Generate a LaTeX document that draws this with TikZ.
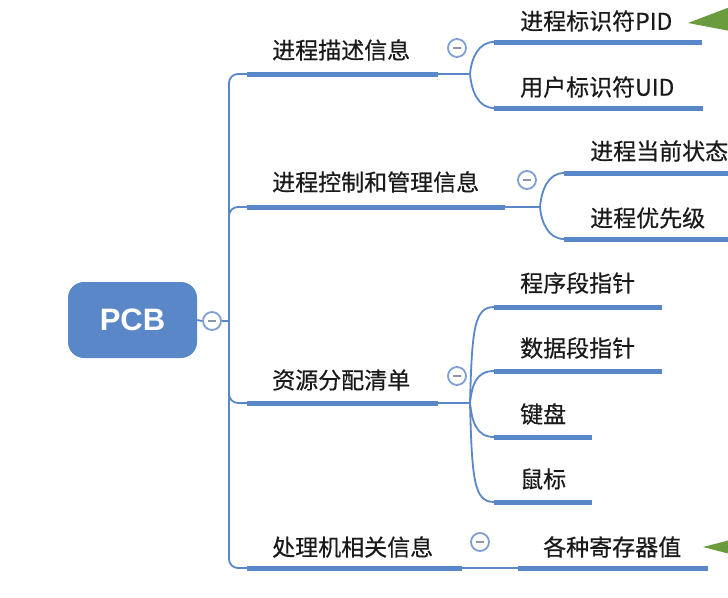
\documentclass[tikz,border=0pt]{standalone}
\usepackage{fontspec}
\newfontfamily\cjk[FakeBold=0.5]{Noto Sans CJK SC}
\newfontfamily\pcbfont{Liberation Sans}
\definecolor{barblue}{HTML}{5A87C8}
\definecolor{circblue}{HTML}{7F9FD3}
\definecolor{minusgray}{HTML}{8C96A8}
\definecolor{leafgreen}{HTML}{6A9B3C}
\definecolor{txt}{HTML}{1A1A1A}
\tikzset{
  bar/.style={draw=barblue, line width=5pt},
  thin/.style={draw=barblue, line width=1.8pt},
  label/.style={anchor=west, inner sep=0pt, text=txt, font=\cjk\fontsize{23}{26}\selectfont},
  collapse/.style={circle, draw=circblue, line width=1.8pt, fill=white, minimum size=18pt, inner sep=0pt,
    path picture={\draw[minusgray, line width=1.8pt] ([xshift=-4pt]path picture bounding box.center) -- ([xshift=4pt]path picture bounding box.center);}},
  fork/.style={thin, rounded corners=9pt}
}
\begin{document}
\begin{tikzpicture}[x=1pt, y=-1pt]
\useasboundingbox (0,0) rectangle (728,597);
\fill[white] (0,0) rectangle (728,597);

% root
\node[fill=barblue, rounded corners=16pt, minimum width=129pt, minimum height=76pt, inner sep=0pt,
  text=white, font=\pcbfont\bfseries\fontsize{31}{34}\selectfont] (pcb) at (132.5,320) {PCB};
\node[collapse] (c0) at (212,321) {};
\coordinate (trunk) at (229,321);
\draw[thin] (pcb.east) -- (c0.west);
\draw[thin] (c0.east) -- (trunk);

% ---------- branch 1
\coordinate (b1s) at (247,74); \coordinate (b1e) at (438,74);
\coordinate (j1) at (470,74);
\node[label] (t1) at (272,50) {进程描述信息};
\node[collapse] (c1) at (457,48) {};
\draw[fork] (trunk) |- (b1s);
\draw[bar] (b1s) -- (b1e);
\draw[thin] (b1e) -- (j1);
\coordinate (s11s) at (494,42); \coordinate (s11e) at (702,42);
\coordinate (s12s) at (494,108); \coordinate (s12e) at (703,108);
\draw[thin] (j1) to[out=85,in=180] (s11s);
\draw[thin] (j1) to[out=-85,in=180] (s12s);
\draw[bar] (s11s) -- (s11e);
\draw[bar] (s12s) -- (s12e);
\node[label] (t11) at (520,21) {进程标识符PID};
\node[label] (t12) at (520,87) {用户标识符UID};

% ---------- branch 2
\coordinate (b2s) at (247,207); \coordinate (b2e) at (505,207);
\coordinate (j2) at (540,207);
\node[label] (t2) at (272,182) {进程控制和管理信息};
\node[collapse] (c2) at (527,180) {};
\draw[fork] (trunk) |- (b2s);
\draw[bar] (b2s) -- (b2e);
\draw[thin] (b2e) -- (j2);
\coordinate (s21s) at (564,173); \coordinate (s21e) at (730,173);
\coordinate (s22s) at (564,239); \coordinate (s22e) at (730,239);
\draw[thin] (j2) to[out=85,in=180] (s21s);
\draw[thin] (j2) to[out=-85,in=180] (s22s);
\draw[bar] (s21s) -- (s21e);
\draw[bar] (s22s) -- (s22e);
\node[label] (t21) at (590,151) {进程当前状态};
\node[label] (t22) at (590,218) {进程优先级};

% ---------- branch 3
\coordinate (b3s) at (247,403); \coordinate (b3e) at (438,403);
\coordinate (j3) at (470,403);
\node[label] (t3) at (272,380) {资源分配清单};
\node[collapse] (c3) at (457,376) {};
\draw[fork] (trunk) |- (b3s);
\draw[bar] (b3s) -- (b3e);
\draw[thin] (b3e) -- (j3);
\coordinate (s31s) at (494,307); \coordinate (s31e) at (662,307);
\coordinate (s32s) at (494,371); \coordinate (s32e) at (662,371);
\coordinate (s33s) at (494,437); \coordinate (s33e) at (592,437);
\coordinate (s34s) at (494,502); \coordinate (s34e) at (592,502);
\draw[thin] (j3) .. controls (472,330) and (474,307) .. (s31s);
\draw[thin] (j3) .. controls (472,385) and (476,371) .. (s32s);
\draw[thin] (j3) .. controls (472,421) and (476,437) .. (s33s);
\draw[thin] (j3) .. controls (472,480) and (474,502) .. (s34s);
\draw[bar] (s31s) -- (s31e);
\draw[bar] (s32s) -- (s32e);
\draw[bar] (s33s) -- (s33e);
\draw[bar] (s34s) -- (s34e);
\node[label] (t31) at (520,283) {程序段指针};
\node[label] (t32) at (520,348) {数据段指针};
\node[label] (t33) at (520,414) {键盘};
\node[label] (t34) at (520,479) {鼠标};

% ---------- branch 4
\coordinate (b4s) at (247,568); \coordinate (b4e) at (462,568);
\node[label] (t4) at (272,547) {处理机相关信息};
\node[collapse] (c4) at (480,542) {};
\draw[fork] (trunk) |- (b4s);
\draw[bar] (b4s) -- (b4e);
\coordinate (s41s) at (518,568); \coordinate (s41e) at (708,568);
\draw[thin] (b4e) -- (s41s);
\draw[bar] (s41s) -- (s41e);
\node[label] (t41) at (543,547) {各种寄存器值};

% green pointers (cut off at right edge)
\coordinate (g1) at (688,23);
\fill[leafgreen] (g1) -- (730,7) -- (730,31) -- cycle;
\coordinate (g2) at (703,547);
\fill[leafgreen] (g2) -- (730,540) -- (730,554) -- cycle;
\end{tikzpicture}
\end{document}
